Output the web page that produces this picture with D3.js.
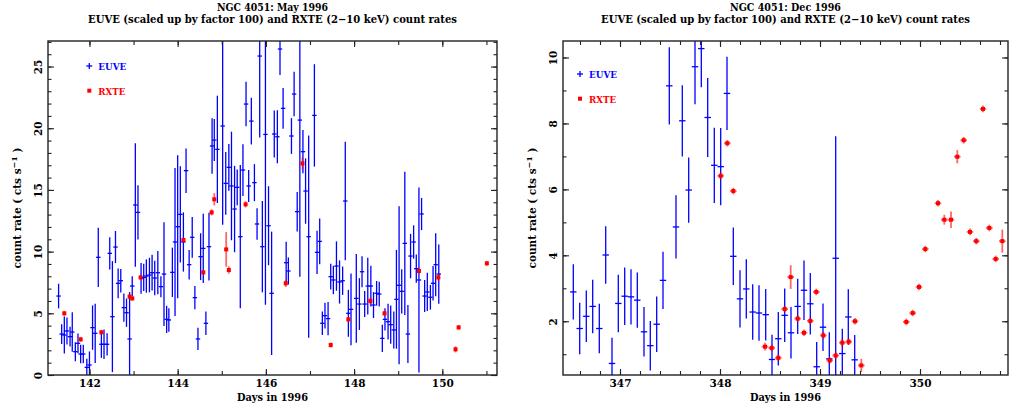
<!DOCTYPE html>
<html lang="en">
<head>
<meta charset="UTF-8">
<title>NGC 4051 EUVE / RXTE count rates</title>
<script src="https://cdn.jsdelivr.net/npm/d3@7"></script>
<style>
    body { margin: 0; padding: 0; background: #fff; }
    svg { display: block; font-family: "DejaVu Serif", "Liberation Serif", serif; }
</style>
</head>
<body>
<svg id="chart" width="1010" height="408"></svg>
<script>
// ---- May 1996 ----
const mayEuveDay = [141.30,141.37,141.43,141.49,141.56,141.61,141.68,141.74,141.80,141.86,141.94,142.00,142.07,142.13,142.20,142.27,142.33,142.40,142.46,142.52,142.59,142.65,142.71,142.78,142.84,142.91,142.97,143.04,143.10,143.17,143.23,143.29,143.36,143.42,143.48,143.55,143.62,143.69,143.75,143.80,143.88,143.94,144.00,144.06,144.13,144.19,144.26,144.33,144.39,144.46,144.52,144.58,144.64,144.71,144.78,144.83,144.90,145.02,145.09,145.16,145.22,145.29,145.35,145.42,145.48,145.55,145.61,145.67,145.74,145.80,145.86,145.92,145.99,146.06,146.13,146.19,146.26,146.32,146.39,146.46,146.51,146.58,146.64,146.71,146.77,146.84,146.90,146.97,147.10,147.16,147.22,147.28,147.34,147.41,147.47,147.53,147.60,147.67,147.74,147.80,147.87,147.93,148.05,148.12,148.18,148.24,148.31,148.38,148.44,148.51,148.57,148.64,148.70,148.77,148.83,148.90,148.96,149.02,149.08,149.15,149.22,149.28,149.35,149.41,149.47,149.53,149.60,149.66,149.73,149.79,149.85,149.92];
const mayEuveRate = [6.40,3.32,3.24,3.57,3.11,3.48,1.89,2.57,1.70,1.70,0.62,0.81,3.84,3.38,9.54,2.49,2.49,2.49,9.86,4.73,10.37,7.43,7.64,5.46,5.05,2.92,7.21,13.78,13.18,7.83,7.91,8.02,8.10,8.29,7.86,8.29,7.16,8.18,4.51,4.46,8.32,10.78,12.02,13.02,10.78,16.56,8.94,11.16,6.27,2.92,9.59,10.26,4.19,10.40,18.56,19.04,18.29,20.18,15.53,16.83,15.32,13.45,15.21,11.21,16.61,21.96,15.32,20.58,15.59,12.24,25.85,10.40,19.50,12.10,6.62,19.53,19.31,26.42,21.61,9.10,8.43,19.37,22.77,13.24,20.66,18.10,14.91,11.21,21.04,9.94,10.83,4.19,4.81,4.57,7.97,7.70,8.83,7.54,7.64,14.10,5.00,5.32,6.21,5.75,8.37,5.75,7.21,7.21,5.67,6.62,6.56,2.97,4.51,4.32,4.08,3.65,6.13,7.27,6.78,10.67,3.32,9.64,10.78,8.62,7.70,13.05,6.40,6.73,6.30,7.43,8.94,8.18];
const mayEuveErr = [1.0,0.8,1.5,1.1,0.8,1.6,0.77,0.8,0.75,0.75,0.7,1.1,1.8,2.4,2.4,1.1,1.2,0.9,1.3,4.5,1.3,1.2,0.95,1.15,1.15,3.8,0.8,5.0,2.2,1.25,1.1,1.35,1.4,1.45,1.4,1.75,0.85,4.2,1.1,0.95,2.0,6.0,5.8,3.9,2.4,1.8,1.2,1.65,0.95,0.9,1.9,2.8,0.95,2.75,2.25,1.7,4.35,8.0,2.55,1.9,4.4,3.5,1.45,5.8,2.1,1.8,1.3,1.9,1.5,1.27,6.6,3.7,13.8,3.2,5.0,1.9,2.15,2.1,1.65,1.7,1.1,1.45,1.8,1.6,12.7,1.75,2.65,8.2,4.15,1.75,1.85,0.95,1.05,1.35,1.05,1.15,2.0,1.75,1.15,4.8,1.9,2.9,3.6,2.1,1.25,1.05,2.3,1.65,1.05,1.0,1.0,1.1,0.9,1.45,1.55,1.5,4.0,6.4,1.8,5.8,2.35,1.8,1.35,1.15,7.5,1.3,1.3,1.55,1.0,1.4,2.55,2.4];

const mayRxteDay = [141.43,141.80,142.27,142.91,142.97,143.16,144.13,144.58,144.77,144.83,145.10,145.16,145.54,146.45,146.83,147.47,147.87,148.37,148.69,149.47,149.91,150.30,150.37,151.01];
const mayRxteRate = [5.00,2.89,3.46,6.35,6.21,7.91,10.94,8.32,13.18,14.24,10.18,8.51,13.83,7.43,17.15,2.43,4.51,6.00,5.00,8.43,7.91,2.08,3.86,9.05];
const mayRxteErr = [0.2,0.2,0.2,0.25,0.2,0.2,0.2,0.2,0.25,0.5,1.4,0.3,0.25,0.3,0.5,0.2,0.2,0.3,0.2,0.2,0.25,0.25,0.2,0.2];

const mayXTicks = [142, 144, 146, 148, 150];
const mayYTicks = [0, 5, 10, 15, 20, 25];

// ---- Dec 1996 ----
const decEuveDay = [346.533,346.597,346.663,346.727,346.793,346.857,346.920,346.983,347.047,347.110,347.173,347.240,347.303,347.367,347.430,347.493,347.560,347.623,347.687,347.750,347.813,347.877,347.943,348.007,348.070,348.133,348.200,348.263,348.327,348.390,348.457,348.520,348.583,348.647,348.710,348.777,348.840,348.903,348.967,349.030,349.093,349.157,349.223,349.283,349.347];
const decEuveRate = [2.89,1.78,2.15,2.45,1.78,4.01,0.72,2.54,2.76,2.74,2.64,1.68,1.26,1.91,3.24,9.14,4.86,8.08,5.98,9.72,10.27,8.18,6.73,6.69,8.91,3.97,2.68,2.98,2.28,2.25,2.20,0.84,1.47,2.18,1.65,2.45,2.94,2.53,0.62,1.82,0.86,3.91,1.02,2.13,0.83];
const decEuveErr = [0.84,0.78,0.78,0.81,0.75,0.87,0.78,0.87,0.87,0.84,0.84,0.75,0.75,0.84,0.87,1.17,0.96,1.08,0.99,1.14,1.17,1.20,1.14,1.17,1.11,0.87,0.87,0.90,0.84,0.84,0.78,0.75,0.81,0.81,0.78,0.84,0.90,0.93,0.75,0.72,0.81,3.7,0.75,0.84,0.75];

const decRxteDay = [348.007,348.073,348.133,348.450,348.517,348.583,348.647,348.707,348.777,348.840,348.903,348.963,349.033,349.097,349.157,349.223,349.287,349.350,349.413,349.863,349.927,349.990,350.053,350.180,350.243,350.310,350.373,350.437,350.500,350.563,350.630,350.693,350.757,350.823];
const decRxteRate = [6.41,7.40,5.95,1.23,1.19,0.89,2.37,3.34,2.08,1.65,2.01,2.89,1.57,0.81,0.96,1.35,1.38,2.00,0.66,1.98,2.25,3.04,4.19,5.58,5.08,5.08,6.99,7.49,4.71,4.43,8.44,4.83,3.89,4.43];
const decRxteErr = [0.1,0.1,0.1,0.12,0.1,0.1,0.1,0.36,0.1,0.1,0.1,0.1,0.1,0.1,0.1,0.12,0.1,0.1,0.2,0.1,0.1,0.1,0.1,0.1,0.15,0.25,0.2,0.1,0.1,0.1,0.1,0.1,0.1,0.35];

const decXTicks = [347, 348, 349, 350];
const decYTicks = [2, 4, 6, 8, 10];

const svg = d3.select("#chart");
const BLUE = "#0000ff", RED = "#ff0000", INK = "#222";

function drawPanel(p) {
    const x = d3.scaleLinear().domain(p.xDomain).range([p.left, p.right]);
    const y = d3.scaleLinear().domain(p.yDomain).range([p.bottom, p.top]);
    const g = svg.append("g");
    const cx = (p.left + p.right) / 2, cy = (p.top + p.bottom) / 2;

    // titles
    g.append("text").attr("x", cx).attr("y", 10.5).attr("text-anchor", "middle")
        .attr("font-size", 11).attr("font-weight", "bold").attr("textLength", 111)
        .attr("lengthAdjust", "spacingAndGlyphs").text(p.title);
    g.append("text").attr("x", cx).attr("y", 23).attr("text-anchor", "middle")
        .attr("font-size", 11).attr("font-weight", "bold").attr("textLength", 369)
        .attr("lengthAdjust", "spacingAndGlyphs")
        .text("EUVE (scaled up by factor 100) and RXTE (2\u221210 keV) count rates");

    // clip
    const clipId = "clip" + p.id;
    svg.append("clipPath").attr("id", clipId).append("rect")
        .attr("x", p.left).attr("y", p.top).attr("width", p.right - p.left).attr("height", p.bottom - p.top);
    const plot = g.append("g").attr("clip-path", `url(#${clipId})`);

    // EUVE crosses
    const euve = p.euveDay.map((d, i) => ({d, v: p.euveRate[i], e: p.euveErr[i]}));
    const eg = plot.append("g").attr("stroke", BLUE).attr("stroke-width", 1.3);
    eg.selectAll(".ev").data(euve).join("line")
        .attr("x1", d => x(d.d)).attr("x2", d => x(d.d))
        .attr("y1", d => y(d.v - d.e)).attr("y2", d => y(d.v + d.e));
    eg.selectAll(".eh").data(euve).join("line").attr("class", "eh")
        .attr("x1", d => x(d.d - p.bin)).attr("x2", d => x(d.d + p.bin))
        .attr("y1", d => y(d.v)).attr("y2", d => y(d.v));

    // RXTE points
    const rxte = p.rxteDay.map((d, i) => ({d, v: p.rxteRate[i], e: p.rxteErr[i]}));
    const rg = plot.append("g");
    rg.selectAll(".rv").data(rxte).join("line").attr("class", "rv")
        .attr("stroke", RED).attr("stroke-opacity", 0.6).attr("stroke-width", 1.8)
        .attr("x1", d => x(d.d)).attr("x2", d => x(d.d))
        .attr("y1", d => y(d.v - d.e)).attr("y2", d => y(d.v + d.e));
    rg.selectAll(".rh").data(rxte).join("line").attr("class", "rh")
        .attr("stroke", RED).attr("stroke-opacity", 0.6).attr("stroke-width", 1.8)
        .attr("x1", d => x(d.d - 0.033)).attr("x2", d => x(d.d + 0.033))
        .attr("y1", d => y(d.v)).attr("y2", d => y(d.v));
    rg.selectAll(".rs").data(rxte).join("rect").attr("class", "rs")
        .attr("fill", RED)
        .attr("x", d => x(d.d) - 2).attr("y", d => y(d.v) - 2)
        .attr("width", 4).attr("height", 4);

    // axes, ticks inward on all sides
    const ax = (gen, tx, ty) => {
        const a = g.append("g").attr("transform", `translate(${tx},${ty})`).call(gen);
        a.select(".domain").remove();
        a.selectAll("line").attr("stroke", INK).attr("stroke-width", 1.1);
        return a;
    };
    ax(d3.axisBottom(x).tickValues(p.xMinor).tickSize(-4).tickFormat(""), 0, p.bottom);
    ax(d3.axisTop(x).tickValues(p.xMinor).tickSize(-4).tickFormat(""), 0, p.top);
    ax(d3.axisTop(x).tickValues(p.xTicks).tickSize(-6).tickFormat(""), 0, p.top);
    const xb = ax(d3.axisBottom(x).tickValues(p.xTicks).tickSize(-6).tickPadding(5).tickFormat(d3.format("d")), 0, p.bottom);
    xb.selectAll("text").attr("font-family", "DejaVu Serif").attr("font-size", 10.5)
        .attr("font-weight", "bold").attr("fill", "#000");

    ax(d3.axisLeft(y).tickValues(p.yMinor).tickSize(-3.5).tickFormat(""), p.left, 0);
    ax(d3.axisRight(y).tickValues(p.yMinor).tickSize(-3.5).tickFormat(""), p.right, 0);
    ax(d3.axisRight(y).tickValues(p.yTicks).tickSize(-6).tickFormat(""), p.right, 0);
    const yl = ax(d3.axisLeft(y).tickValues(p.yTicks).tickSize(-6).tickFormat(d3.format("d")), p.left, 0);
    yl.selectAll("text")
        .attr("transform", "rotate(-90)").attr("x", 0).attr("y", -6.5).attr("dy", null)
        .attr("text-anchor", "middle").attr("font-family", "DejaVu Serif")
        .attr("font-size", 10.5).attr("font-weight", "bold").attr("fill", "#000");

    // frame
    g.append("rect").attr("x", p.left).attr("y", p.top)
        .attr("width", p.right - p.left).attr("height", p.bottom - p.top)
        .attr("fill", "none").attr("stroke", INK).attr("stroke-width", 1.4);

    // axis labels
    g.append("text").attr("x", cx).attr("y", 401).attr("text-anchor", "middle")
        .attr("font-size", 10.5).attr("font-weight", "bold").attr("textLength", 71)
        .attr("lengthAdjust", "spacingAndGlyphs").text("Days in 1996");
    const yt = g.append("text").attr("transform", `translate(${p.left - 27},${cy}) rotate(-90)`)
        .attr("text-anchor", "middle").attr("font-size", 10.5).attr("font-weight", "bold");
    yt.append("tspan").text("count rate ( cts s");
    yt.append("tspan").attr("dy", -4).attr("font-size", 8).text("\u22121");
    yt.append("tspan").attr("dy", 4).text(" )");

    // legend
    const lg = g.append("g").attr("font-size", 10).attr("font-weight", "bold");
    lg.append("line").attr("x1", p.legX - 3).attr("x2", p.legX + 3).attr("y1", p.legY).attr("y2", p.legY)
        .attr("stroke", BLUE).attr("stroke-width", 1.3);
    lg.append("line").attr("x1", p.legX).attr("x2", p.legX).attr("y1", p.legY - 3).attr("y2", p.legY + 3)
        .attr("stroke", BLUE).attr("stroke-width", 1.3);
    lg.append("text").attr("x", p.legX + 9).attr("y", p.legY + 3.5).attr("fill", BLUE)
        .attr("textLength", 28).attr("lengthAdjust", "spacingAndGlyphs").text("EUVE");
    lg.append("rect").attr("x", p.legX - 2).attr("y", p.legY + 22.7).attr("width", 4).attr("height", 4)
        .attr("fill", RED);
    lg.append("text").attr("x", p.legX + 9).attr("y", p.legY + 28.5).attr("fill", RED)
        .attr("textLength", 27).attr("lengthAdjust", "spacingAndGlyphs").text("RXTE");
}

drawPanel({
    id: "may", title: "NGC 4051: May 1996",
    left: 48, right: 497, top: 41, bottom: 375,
    xDomain: [141.06, 151.24], yDomain: [0, 27.07],
    xTicks: mayXTicks, xMinor: d3.range(142, 152, 1),
    yTicks: mayYTicks, yMinor: d3.range(0, 28, 1),
    euveDay: mayEuveDay, euveRate: mayEuveRate, euveErr: mayEuveErr,
    rxteDay: mayRxteDay, rxteRate: mayRxteRate, rxteErr: mayRxteErr,
    bin: 0.05, legX: 89.3, legY: 66
});

drawPanel({
    id: "dec", title: "NGC 4051: Dec 1996",
    left: 563, right: 1008, top: 41, bottom: 375,
    xDomain: [346.43, 350.88], yDomain: [0.37, 10.5],
    xTicks: decXTicks, xMinor: d3.range(346.6, 350.9, 0.2),
    yTicks: decYTicks, yMinor: d3.range(1, 11, 1),
    euveDay: decEuveDay, euveRate: decEuveRate, euveErr: decEuveErr,
    rxteDay: decRxteDay, rxteRate: decRxteRate, rxteErr: decRxteErr,
    bin: 0.032, legX: 580, legY: 74
});
</script>
</body>
</html>
